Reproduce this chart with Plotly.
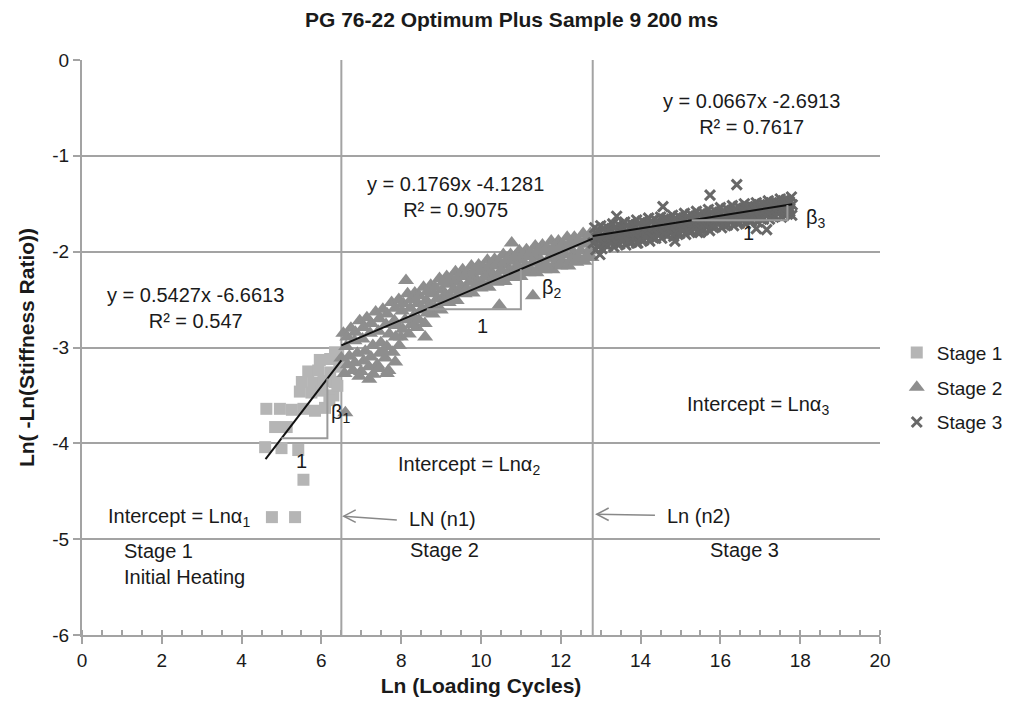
import plotly.graph_objects as go

# ---------------- data ----------------
stage1_x = [4.76, 5.34, 5.55, 4.59, 5.00, 5.42, 4.84, 5.13, 4.62, 4.96, 5.26, 5.55, 5.84, 6.09,
            5.51, 5.80, 6.05, 6.34, 5.46, 5.75, 6.00, 6.30, 5.67, 5.92, 6.22, 5.96, 6.22, 6.34,
            6.42, 6.45, 6.20, 6.40]
stage1_y = [-4.77, -4.77, -4.38, -4.04, -4.05, -4.07, -3.83, -3.83, -3.64, -3.64, -3.65, -3.64, -3.66, -3.63,
            -3.36, -3.37, -3.35, -3.36, -3.46, -3.47, -3.45, -3.50, -3.25, -3.24, -3.26, -3.13, -3.12, -3.05,
            -3.06, -3.20, -3.55, -3.40]

stage2_x = [6.55, 6.62, 6.50, 6.58, 6.74, 6.83, 6.70, 6.79, 6.96, 7.03, 6.90, 6.99,
            7.14, 7.22, 7.10, 7.19, 7.36, 7.43, 7.29, 7.40, 7.54, 7.62, 7.49, 7.60,
            7.76, 7.83, 7.70, 7.79, 7.94, 8.02, 7.89, 7.99, 8.16, 8.23, 8.10, 8.19,
            8.34, 8.42, 8.30, 8.39, 8.56, 8.63, 8.50, 8.59, 8.74, 8.82, 8.70, 8.79,
            8.96, 9.03, 8.90, 8.99, 9.14, 9.22, 9.10, 9.19, 9.36, 9.43, 9.30, 9.39,
            9.54, 9.62, 9.50, 9.59, 9.76, 9.83, 9.70, 9.79, 9.94, 10.02, 9.90, 9.99,
            10.16, 10.23, 10.10, 10.19, 10.34, 10.42, 10.30, 10.39, 10.56, 10.63, 10.50, 10.59,
            10.74, 10.82, 10.70, 10.79, 10.96, 11.03, 10.90, 10.99, 11.14, 11.22, 11.10, 11.19,
            11.36, 11.43, 11.30, 11.39, 11.54, 11.62, 11.50, 11.59, 11.76, 11.83, 11.70, 11.79,
            11.94, 12.02, 11.90, 11.99, 12.16, 12.23, 12.10, 12.19, 12.34, 12.42, 12.30, 12.39,
            12.56, 12.63, 12.50, 12.59, 12.74, 12.78, 12.70, 12.77,
            6.65, 6.66, 6.85, 6.84, 7.05, 7.06, 7.25, 7.24, 7.45, 7.46, 7.65, 7.64,
            7.85, 7.86, 8.05, 8.04, 8.25, 8.26, 8.45, 8.44, 8.65, 8.66, 8.85, 8.84,
            9.05, 9.06, 9.25, 9.24, 9.45, 9.46, 9.65, 9.64, 9.85, 9.86, 10.05, 10.04,
            10.25, 10.26, 10.45, 10.44, 10.65, 10.66, 10.85, 10.84, 11.05, 11.06, 11.25, 11.24,
            11.45, 11.46, 11.65, 11.64, 11.85, 11.86, 12.05, 12.04, 12.25, 12.26, 12.45, 12.44,
            12.65, 12.66,
            7.30, 7.45, 7.68, 7.85, 7.55, 7.95,
            8.12, 8.60, 11.30, 10.46, 7.64, 6.60, 10.77, 6.95, 7.20]
stage2_y = [-2.85, -2.99, -3.11, -3.27, -2.80, -2.93, -3.09, -3.24, -2.72, -2.91, -3.06, -3.25,
            -2.69, -2.85, -3.04, -3.20, -2.63, -2.83, -2.98, -3.18, -2.60, -2.76, -2.95, -3.11,
            -2.53, -2.72, -2.86, -3.05, -2.50, -2.62, -2.77, -2.89, -2.44, -2.59, -2.71, -2.86,
            -2.43, -2.54, -2.68, -2.79, -2.37, -2.51, -2.61, -2.75, -2.35, -2.44, -2.56, -2.65,
            -2.28, -2.40, -2.49, -2.61, -2.26, -2.34, -2.45, -2.53, -2.21, -2.32, -2.40, -2.51,
            -2.19, -2.26, -2.37, -2.44, -2.15, -2.26, -2.32, -2.43, -2.14, -2.21, -2.31, -2.38,
            -2.09, -2.20, -2.26, -2.37, -2.08, -2.15, -2.25, -2.32, -2.03, -2.14, -2.20, -2.31,
            -2.03, -2.10, -2.20, -2.27, -1.99, -2.09, -2.15, -2.26, -1.98, -2.05, -2.15, -2.22,
            -1.94, -2.05, -2.11, -2.22, -1.93, -2.00, -2.11, -2.19, -1.89, -2.00, -2.07, -2.19,
            -1.89, -1.96, -2.07, -2.15, -1.85, -1.96, -2.03, -2.15, -1.85, -1.92, -2.03, -2.11,
            -1.81, -1.92, -1.99, -2.10, -1.81, -1.88, -1.99, -2.06,
            -2.89, -3.18, -2.84, -3.16, -2.79, -3.14, -2.75, -3.10, -2.70, -3.06, -2.65, -2.99,
            -2.59, -2.89, -2.54, -2.81, -2.50, -2.76, -2.46, -2.71, -2.42, -2.64, -2.37, -2.58,
            -2.32, -2.52, -2.28, -2.47, -2.25, -2.43, -2.22, -2.39, -2.19, -2.36, -2.16, -2.33,
            -2.13, -2.30, -2.10, -2.27, -2.08, -2.25, -2.05, -2.22, -2.03, -2.20, -2.01, -2.18,
            -1.98, -2.16, -1.96, -2.14, -1.94, -2.12, -1.92, -2.10, -1.90, -2.08, -1.88, -2.06,
            -1.86, -2.04,
            -3.28, -3.22, -3.24, -3.15, -3.04, -2.98,
            -2.30, -2.89, -2.46, -2.56, -3.27, -3.68, -1.91, -3.30, -3.33]

stage3_x = [12.85, 12.91, 12.81, 12.88, 13.00, 13.06, 12.95, 13.03, 13.15, 13.21, 13.10, 13.18,
            13.30, 13.36, 13.25, 13.33, 13.45, 13.51, 13.40, 13.48, 13.60, 13.66, 13.55, 13.63,
            13.75, 13.81, 13.70, 13.78, 13.90, 13.96, 13.85, 13.93, 14.05, 14.11, 14.00, 14.08,
            14.20, 14.26, 14.15, 14.23, 14.35, 14.41, 14.30, 14.38, 14.50, 14.56, 14.45, 14.53,
            14.65, 14.71, 14.60, 14.68, 14.80, 14.86, 14.75, 14.83, 14.95, 15.01, 14.90, 14.98,
            15.10, 15.16, 15.05, 15.13, 15.25, 15.31, 15.20, 15.28, 15.40, 15.46, 15.35, 15.43,
            15.55, 15.61, 15.50, 15.58, 15.70, 15.76, 15.65, 15.73, 15.85, 15.91, 15.80, 15.88,
            16.00, 16.06, 15.95, 16.03, 16.15, 16.21, 16.10, 16.18, 16.30, 16.36, 16.25, 16.33,
            16.45, 16.51, 16.40, 16.48, 16.60, 16.66, 16.55, 16.63, 16.75, 16.81, 16.70, 16.78,
            16.90, 16.96, 16.85, 16.93, 17.05, 17.11, 17.00, 17.08, 17.20, 17.26, 17.15, 17.23,
            17.35, 17.41, 17.30, 17.38, 17.50, 17.56, 17.45, 17.53, 17.65, 17.71, 17.60, 17.68,
            17.78, 17.80, 17.74, 17.79,
            12.93, 12.90, 12.94, 13.08, 13.05, 13.09, 13.23, 13.20, 13.24, 13.38, 13.35, 13.39,
            13.53, 13.50, 13.54, 13.68, 13.65, 13.69, 13.83, 13.80, 13.84, 13.98, 13.95, 13.99,
            14.13, 14.10, 14.14, 14.28, 14.25, 14.29, 14.43, 14.40, 14.44, 14.58, 14.55, 14.59,
            14.73, 14.70, 14.74, 14.88, 14.85, 14.89, 15.03, 15.00, 15.04, 15.18, 15.15, 15.19,
            15.33, 15.30, 15.34, 15.48, 15.45, 15.49, 15.63, 15.60, 15.64, 15.78, 15.75, 15.79,
            15.93, 15.90, 15.94, 16.08, 16.05, 16.09, 16.23, 16.20, 16.24, 16.38, 16.35, 16.39,
            16.53, 16.50, 16.54, 16.68, 16.65, 16.69, 16.83, 16.80, 16.84, 16.98, 16.95, 16.99,
            17.13, 17.10, 17.14, 17.28, 17.25, 17.29, 17.43, 17.40, 17.44, 17.58, 17.55, 17.59,
            17.73, 17.70, 17.74,
            16.41, 15.74, 17.16, 14.86, 15.49, 13.90, 12.98, 14.56, 13.40, 16.90]
stage3_y = [-1.75, -1.82, -1.91, -1.98, -1.73, -1.83, -1.88, -1.97, -1.74, -1.80, -1.89, -1.94,
            -1.71, -1.81, -1.86, -1.95, -1.72, -1.78, -1.87, -1.92, -1.69, -1.79, -1.84, -1.93,
            -1.70, -1.76, -1.85, -1.90, -1.67, -1.77, -1.82, -1.91, -1.68, -1.74, -1.83, -1.88,
            -1.65, -1.75, -1.80, -1.89, -1.66, -1.72, -1.81, -1.86, -1.64, -1.73, -1.78, -1.86,
            -1.65, -1.70, -1.79, -1.83, -1.62, -1.71, -1.76, -1.84, -1.63, -1.68, -1.77, -1.81,
            -1.60, -1.69, -1.74, -1.82, -1.61, -1.66, -1.75, -1.79, -1.58, -1.67, -1.72, -1.80,
            -1.59, -1.64, -1.73, -1.77, -1.56, -1.65, -1.70, -1.78, -1.57, -1.62, -1.71, -1.74,
            -1.54, -1.63, -1.67, -1.75, -1.55, -1.60, -1.68, -1.72, -1.52, -1.61, -1.65, -1.73,
            -1.53, -1.58, -1.66, -1.70, -1.50, -1.59, -1.63, -1.71, -1.52, -1.56, -1.64, -1.68,
            -1.49, -1.57, -1.61, -1.69, -1.50, -1.54, -1.62, -1.66, -1.47, -1.55, -1.59, -1.66,
            -1.48, -1.52, -1.60, -1.63, -1.45, -1.53, -1.57, -1.64, -1.46, -1.50, -1.58, -1.61,
            -1.43, -1.51, -1.55, -1.62,
            -1.78, -1.86, -1.94, -1.76, -1.85, -1.92, -1.77, -1.84, -1.90, -1.74, -1.83, -1.91,
            -1.75, -1.82, -1.88, -1.72, -1.81, -1.89, -1.73, -1.80, -1.86, -1.70, -1.79, -1.87,
            -1.71, -1.78, -1.84, -1.68, -1.77, -1.85, -1.69, -1.75, -1.82, -1.66, -1.74, -1.81,
            -1.68, -1.73, -1.79, -1.65, -1.72, -1.80, -1.66, -1.71, -1.77, -1.63, -1.70, -1.78,
            -1.64, -1.69, -1.75, -1.61, -1.68, -1.76, -1.62, -1.67, -1.73, -1.59, -1.66, -1.74,
            -1.60, -1.65, -1.71, -1.57, -1.64, -1.72, -1.58, -1.63, -1.68, -1.55, -1.62, -1.69,
            -1.56, -1.61, -1.66, -1.53, -1.60, -1.67, -1.54, -1.59, -1.64, -1.51, -1.58, -1.65,
            -1.52, -1.57, -1.62, -1.49, -1.56, -1.63, -1.50, -1.55, -1.60, -1.47, -1.54, -1.61,
            -1.48, -1.53, -1.58,
            -1.30, -1.41, -1.77, -1.89, -1.80, -1.91, -2.03, -1.53, -1.63, -1.76]

# trendline fits (from the chart's equations) and their x spans
fit_slopes = [0.5427, 0.1769, 0.0667]
fit_intercepts = [-6.6613, -4.1281, -2.6913]
fit_r2 = ["0.547", "0.9075", "0.7617"]
fit_x_start = [4.6, 6.5, 12.8]
fit_x_end = [6.5, 12.8, 17.8]

# stage boundaries ln(n1), ln(n2)
boundaries = [6.5, 12.8]

stage_names = ["Stage 1", "Stage 2", "Stage 3"]
y_ticks = [-6, -5, -4, -3, -2, -1, 0]
y_tick_labels = ["-6", "-5", "-4", "-3", "-2", "-1", "0"]

# ---------------- styles ----------------
FONT = "Liberation Sans, Arial, Helvetica, sans-serif"
GRID = "#a3a3a3"
TXT = "#1a1a1a"
colors = ["#b5b5b5", "#8e8e8e", "#686868"]

fig = go.Figure()

fig.add_trace(go.Scatter(x=stage1_x, y=stage1_y, mode="markers", name=stage_names[0],
                         legendgroup="s1",
                         marker=dict(symbol="square", size=12, color=colors[0])))
fig.add_trace(go.Scatter(x=stage2_x, y=stage2_y, mode="markers", name=stage_names[1],
                         legendgroup="s2",
                         marker=dict(symbol="triangle-up", size=14, color=colors[1])))
fig.add_trace(go.Scatter(x=stage3_x, y=stage3_y, mode="markers", name=stage_names[2],
                         legendgroup="s3",
                         marker=dict(symbol="x-thin", size=10, color=colors[2],
                                     line=dict(color=colors[2], width=3))))

def f(i, x):
    return fit_slopes[i] * x + fit_intercepts[i]

for i in range(3):
    xs = [fit_x_start[i], fit_x_end[i]]
    fig.add_trace(go.Scatter(x=xs, y=[f(i, v) for v in xs], mode="lines",
                             line=dict(color="#111111", width=2), showlegend=False,
                             hoverinfo="skip"))

shapes = []
for b in boundaries:
    shapes.append(dict(type="line", xref="x", yref="y", x0=b, x1=b, y0=-6, y1=0,
                       line=dict(color=GRID, width=2), layer="below"))

# slope triangles
tri_x0 = [5.0, 8.64, 15.28]
tri_x1 = [6.15, 11.0, 17.68]
for i in range(3):
    y0 = f(i, tri_x0[i])
    y1 = f(i, tri_x1[i])
    shapes.append(dict(type="path", xref="x", yref="y",
                       path=f"M {tri_x0[i]},{y0} L {tri_x1[i]},{y0} L {tri_x1[i]},{y1}",
                       line=dict(color="#9a9a9a", width=2), layer="above"))

# arrows toward ln(n1), ln(n2)
arrows = [((6.56, -4.76), (7.89, -4.80)), ((12.90, -4.74), (14.36, -4.75))]
for (tx, ty), (sx, sy) in arrows:
    shapes.append(dict(type="path", xref="x", yref="y",
                       path=f"M {sx},{sy} L {tx},{ty}",
                       line=dict(color="#888888", width=1.5)))
    shapes.append(dict(type="path", xref="x", yref="y",
                       path=f"M {tx+0.30},{ty+0.065} L {tx},{ty} L {tx+0.30},{ty-0.065}",
                       line=dict(color="#888888", width=1.5)))

fig.update_layout(shapes=shapes)

ann = []
def A(x, y, text, xanchor="center", size=20, align="center"):
    ann.append(dict(x=x, y=y, xref="x", yref="y", text=text, showarrow=False,
                    xanchor=xanchor, yanchor="middle", align=align,
                    font=dict(size=size, color=TXT, family=FONT)))

eq_x = [2.85, 9.35, 16.78]
eq_y = [-2.59, -1.425, -0.565]
for i in range(3):
    A(eq_x[i], eq_y[i], f"y = {fit_slopes[i]}x {fit_intercepts[i]}<br>R² = {fit_r2[i]}")

A(6.2, -3.69, "β<sub>1</sub>", "left")
A(11.48, -2.38, "β<sub>2</sub>", "left")
A(18.1, -1.65, "β<sub>3</sub>", "left")
A(5.49, -4.18, "1")
A(10.04, -2.78, "1")
A(16.70, -1.81, "1")
A(0.6, -4.77, "Intercept = Lnα<sub>1</sub>", "left")
A(9.7, -4.23, "Intercept = Lnα<sub>2</sub>")
A(16.94, -3.61, "Intercept = Lnα<sub>3</sub>")
A(8.15, -4.79, "LN (n1)", "left")
A(14.61, -4.76, "Ln (n2)", "left")
A(1.0, -5.26, "Stage 1<br>Initial Heating", "left", align="left")
A(9.08, -5.11, "Stage 2")
A(16.6, -5.11, "Stage 3")

fig.update_layout(
    annotations=ann,
    width=1011, height=706,
    margin=dict(l=82, r=131, t=60, b=71, autoexpand=False),
    paper_bgcolor="white", plot_bgcolor="white",
    font=dict(family=FONT, size=19, color=TXT),
    title=dict(text="PG 76-22 Optimum Plus Sample 9 200 ms", x=0.506, xref="container",
               y=0.972, yref="container", xanchor="center", yanchor="middle",
               font=dict(size=21, family=FONT, weight="bold", color=TXT)),
    legend=dict(x=1.021, y=0.43, xanchor="left", yanchor="middle",
                font=dict(size=19, family=FONT, color=TXT), tracegroupgap=7,
                bgcolor="rgba(0,0,0,0)"),
    showlegend=True,
)

fig.update_xaxes(range=[0, 20], dtick=2, tick0=0, showgrid=False, zeroline=False,
                 showline=True, linecolor=GRID, linewidth=2,
                 ticks="outside", ticklen=7, tickwidth=2, tickcolor=GRID,
                 minor=dict(dtick=0.5, ticks="inside", ticklen=5, tickwidth=1.5, tickcolor=GRID,
                            showgrid=False),
                 tickfont=dict(size=19, family=FONT, color=TXT),
                 title=dict(text="Ln (Loading Cycles)", standoff=9,
                            font=dict(size=21, family=FONT, weight="bold", color=TXT)))
fig.update_yaxes(range=[-6, 0], tickvals=y_ticks, ticktext=y_tick_labels,
                 showgrid=True, gridcolor=GRID, gridwidth=2,
                 zeroline=False, showline=True, linecolor=GRID, linewidth=2,
                 ticks="outside", ticklen=7, tickwidth=2, tickcolor=GRID,
                 tickfont=dict(size=19, family=FONT, color=TXT),
                 title=dict(text="Ln( -Ln(Stiffness Ratio))", standoff=12,
                            font=dict(size=21, family=FONT, weight="bold", color=TXT)))

fig.write_html("out.html")
